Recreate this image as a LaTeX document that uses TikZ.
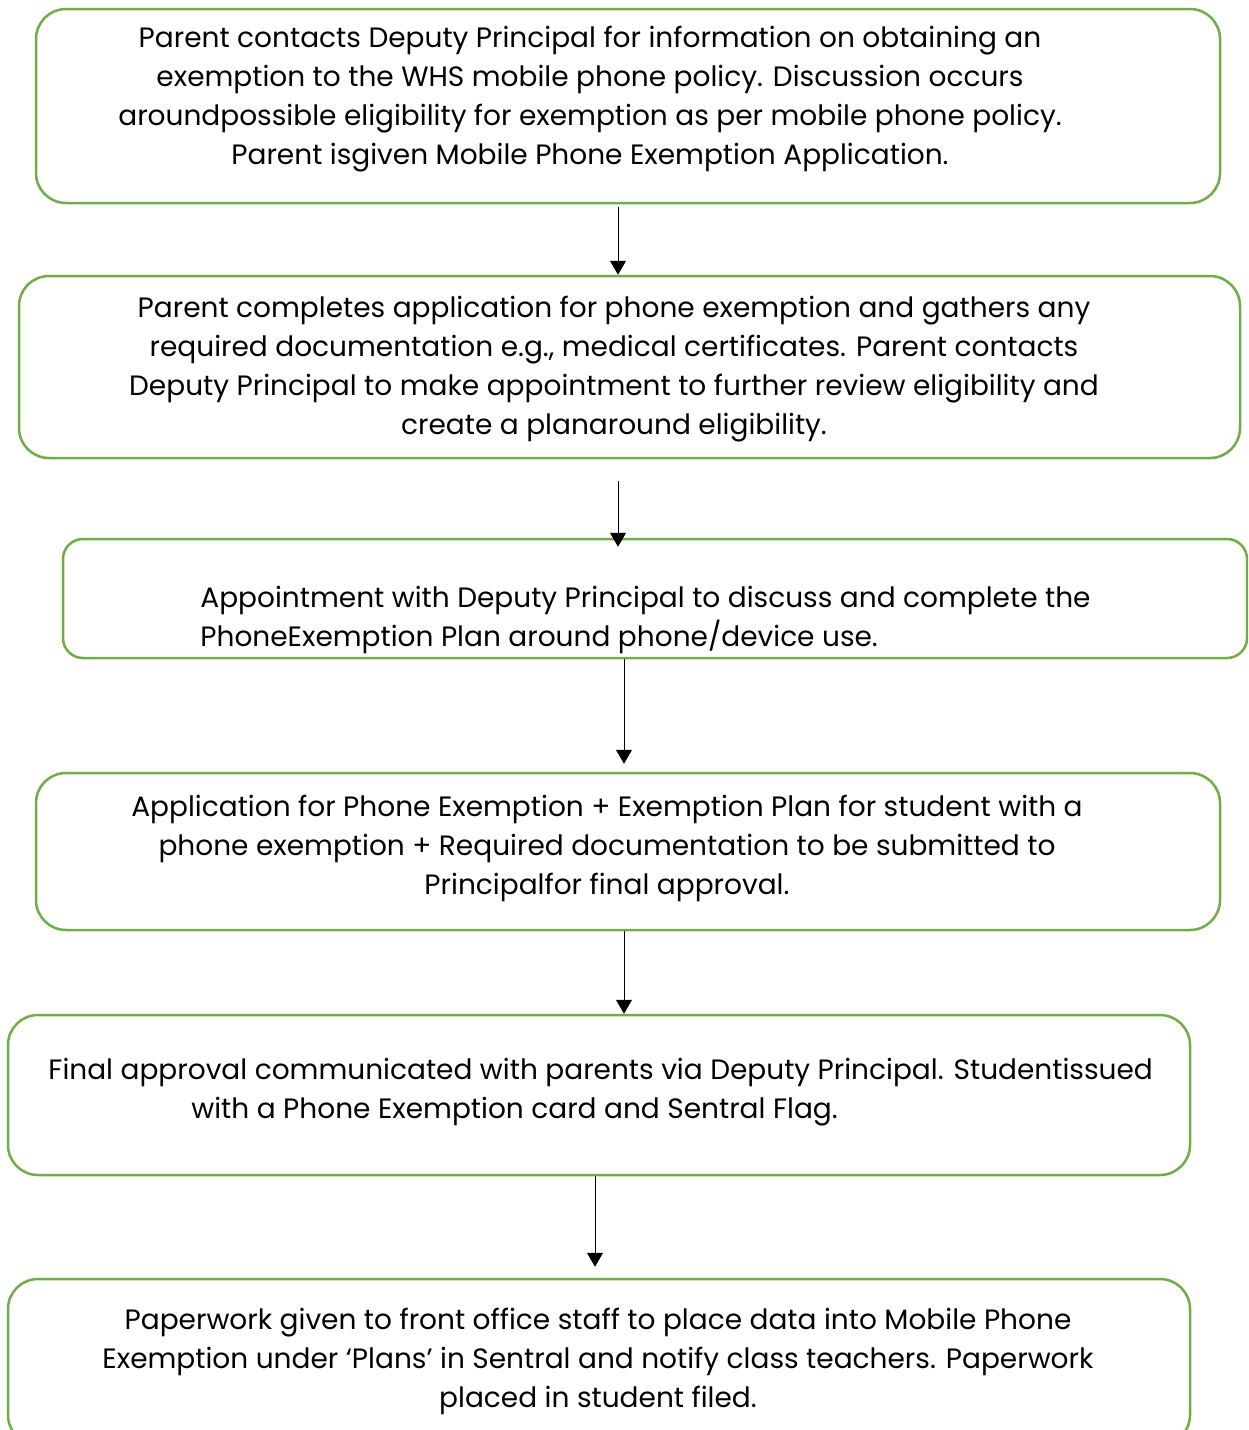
\documentclass[tikz,border=0pt]{standalone}
\usepackage{fontspec}
\setmainfont{Poppins}
\usepackage{xcolor}
\usepackage{tikz}
\usetikzlibrary{arrows.meta}
\definecolor{leaf}{HTML}{70AD47}
\tikzset{
  stepbox/.style={draw=leaf,line width=1.25pt,rounded corners=15pt,inner sep=0pt},
  steptext/.style={inner sep=0pt,font=\fontsize{14}{19.5}\selectfont},
  flow/.style={line width=0.5pt,-{Triangle[width=8pt,length=7pt]}}
}

\begin{document}
\begin{tikzpicture}[x=0.5pt,y=-0.5pt]
  \useasboundingbox (0,0) rectangle (1248,1430);
  \clip (0,0) rectangle (1248,1430);
  % the six steps of the exemption process
  \node (b1) at (628,106) [stepbox,minimum width=592pt,minimum height=97pt] {};
  \node (b2) at (629.5,367) [stepbox,minimum width=610.5pt,minimum height=91pt] {};
  \node (b3) at (655,598.5) [stepbox,rounded corners=10pt,minimum width=592pt,minimum height=59.5pt] {};
  \node (b4) at (628,851.5) [stepbox,minimum width=592pt,minimum height=78.5pt] {};
  \node (b5) at (599,1095) [stepbox,minimum width=591pt,minimum height=80pt] {};
  \node (b6) at (599,1362) [stepbox,minimum width=591pt,minimum height=83pt] {};
  % texts
  \node (t1) at (590,99) [steptext,align=center] {Parent contacts Deputy Principal for information on obtaining an\\
    exemption to the WHS mobile phone policy. Discussion occurs\\
    aroundpossible eligibility for exemption as per mobile phone policy.\\
    Parent isgiven Mobile Phone Exemption Application.};
  \node (t2) at (614,369.5) [steptext,align=center] {Parent completes application for phone exemption and gathers any\\
    required documentation e.g., medical certificates. Parent contacts\\
    Deputy Principal to make appointment to further review eligibility and\\
    create a planaround eligibility.};
  \node (t3) at (200,620) [steptext,anchor=west,align=left] {Appointment with Deputy Principal to discuss and complete the\\
    PhoneExemption Plan around phone/device use.};
  \node (t4) at (607,848.5) [steptext,align=center] {Application for Phone Exemption + Exemption Plan for student with a\\
    phone exemption + Required documentation to be submitted to\\
    Principalfor final approval.};
  \node (t5) at (48,1092.5) [steptext,anchor=west,align=left] {Final approval communicated with parents via Deputy Principal. Studentissued\\
    \hspace*{71.5pt}with a Phone Exemption card and Sentral Flag.};
  \node (t6) at (598,1361) [steptext,align=center] {Paperwork given to front office staff to place data into Mobile Phone\\
    Exemption under `Plans' in Sentral and notify class teachers. Paperwork\\
    placed in student filed.};
  % arrows
  \draw[flow] ([yshift=-1.5pt]b1.south -| 618,0) -- (b2.north -| 618,0);
  \draw[flow] ([yshift=-11pt]b2.south -| 618,0) -- ([yshift=-4.5pt]b3.north -| 618,0);
  \draw[flow] (b3.south -| 624,0) -- ([yshift=4pt]b4.north -| 624,0);
  \draw[flow] (b4.south -| 624,0) -- (b5.north -| 624,0);
  \draw[flow] (b5.south -| 595,0) -- ([yshift=5.5pt]b6.north -| 595,0);
\end{tikzpicture}
\end{document}
